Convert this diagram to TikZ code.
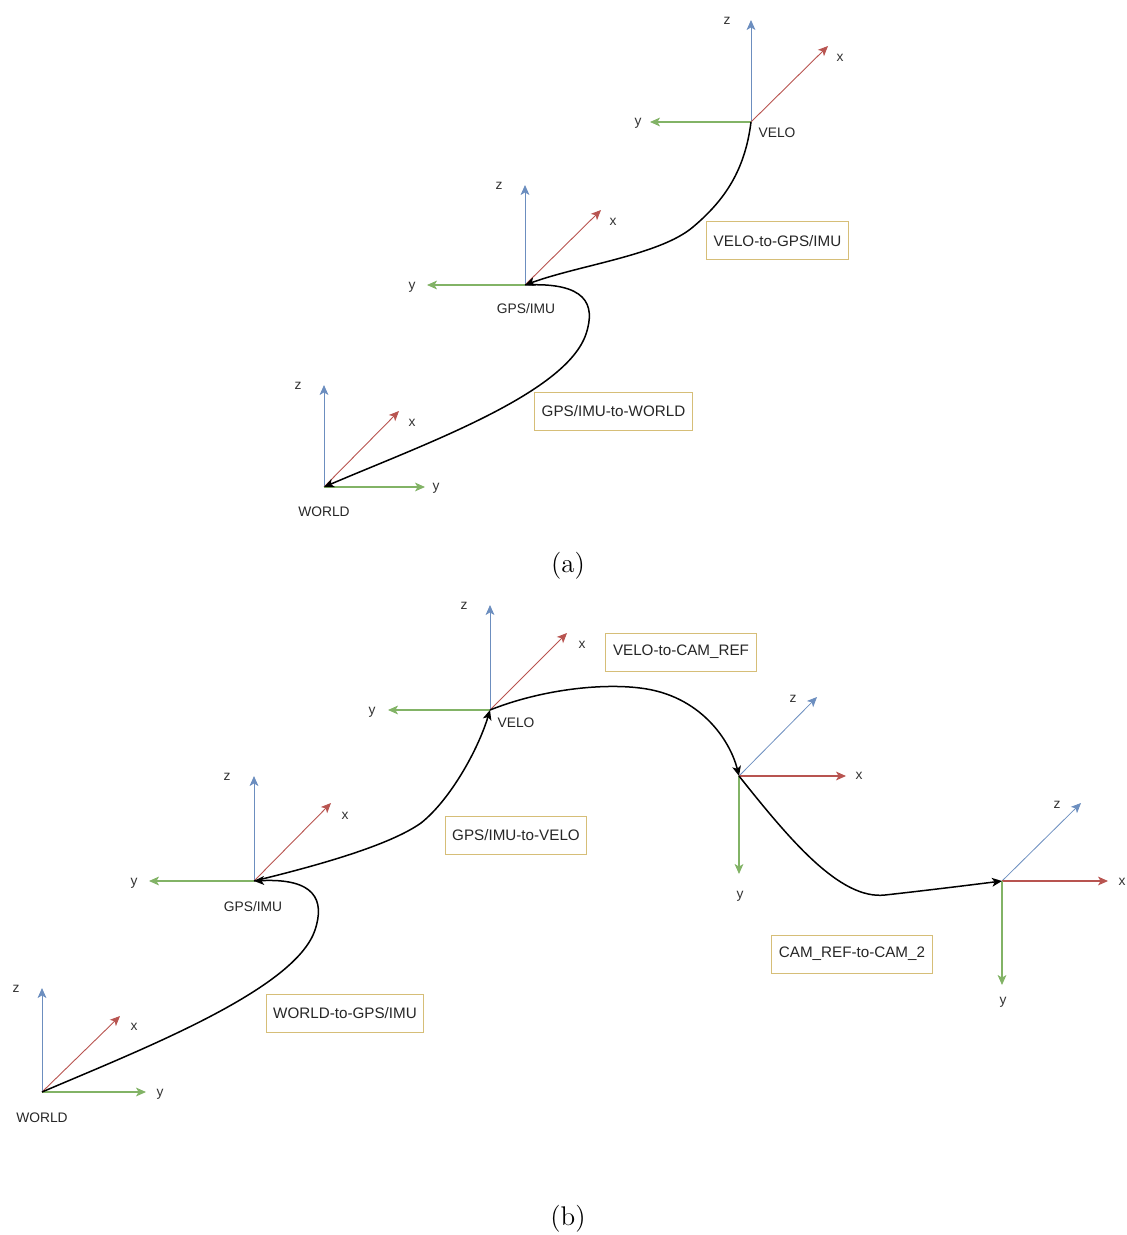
\documentclass[tikz,border=0pt]{standalone}
\usepackage{fontspec}
\newfontfamily\lab{Liberation Sans}
\usetikzlibrary{arrows.meta}
\definecolor{zblue}{RGB}{108,142,191}
\definecolor{xred}{RGB}{184,84,80}
\definecolor{ygreen}{RGB}{130,179,102}
\definecolor{boxtan}{RGB}{214,190,120}
\tikzset{
  tipa/.style={-{Stealth[length=5pt,width=4.4pt,inset=1.3pt]}},
  zax/.style={tipa, draw=zblue, line width=0.5pt},
  xax/.style={tipa, draw=xred, line width=0.45pt},
  yax/.style={tipa, draw=ygreen, line width=0.55pt},
  axlbl/.style={font=\lab\fontsize{6.9}{8}\selectfont, inner sep=0pt, text=black!80},
  frlbl/.style={font=\lab\fontsize{6.9}{8}\selectfont, inner sep=0pt, text=black!85},
  tbox/.style={draw=boxtan, line width=0.5pt, fill=white, font=\lab\fontsize{7.6}{9}\selectfont,
     inner xsep=3.6pt, minimum height=19pt, text=black!85},
  conn/.style={-{Stealth[length=5pt,width=4.4pt,inset=1.3pt]}, line width=0.75pt, black},
  capt/.style={font=\fontsize{13.5}{16}\selectfont, inner sep=0pt}
}
\begin{document}
\begin{tikzpicture}[x=0.5pt,y=-0.5pt]
\useasboundingbox (0,0) rectangle (1126,1235);

% ================= (a) =================
% VELO (a)
\coordinate (va) at (751,122);
\draw[zax] (va) -- ++(0,-102) coordinate (vaz);
\draw[xax] (va) -- ++(77,-76) coordinate (vax);
\draw[yax] (va) -- ++(-101,0) coordinate (vay);
\node[axlbl] (vazl) at (727,21) {z};
\node[axlbl] (vaxl) at (840,58) {x};
\node[axlbl] (vayl) at (638,123) {y};
\node[frlbl] (val) at (777,133) {VELO};

% GPS/IMU (a)
\coordinate (ga) at (525,285);
\draw[zax] (ga) -- ++(0,-100) coordinate (gaz);
\draw[xax] (ga) -- ++(76,-75) coordinate (gax);
\draw[yax] (ga) -- ++(-98,0) coordinate (gay);
\node[axlbl] (gazl) at (499,186) {z};
\node[axlbl] (gaxl) at (613,222) {x};
\node[axlbl] (gayl) at (412,287) {y};
\node[frlbl] (gal) at (526,309) {GPS/IMU};

% WORLD (a)
\coordinate (wa) at (324,487);
\draw[zax] (wa) -- ++(0,-102) coordinate (waz);
\draw[xax] (wa) -- ++(75,-76) coordinate (wax);
\draw[yax] (wa) -- ++(101,0) coordinate (way);
\node[axlbl] (wazl) at (298,386) {z};
\node[axlbl] (waxl) at (412,423) {x};
\node[axlbl] (wayl) at (436,488) {y};
\node[frlbl] (wal) at (324,512) {WORLD};

% connectors (a)
\draw[conn] (va) .. controls (745,170) and (725,200) .. (693,227)
                 .. controls (660,255) and (580,265) .. (ga);
\draw[conn] (ga) .. controls (586,282) and (596,304) .. (586,334)
                 .. controls (566,394) and (422,445) .. (wa);

\node[tbox] (b1) at (777.5,241) {VELO-to-GPS/IMU};
\node[tbox] (b2) at (613.5,411) {GPS/IMU-to-WORLD};

\node[capt] (ca) at (568,566) {(a)};

% ================= (b) =================
% VELO (b)
\coordinate (vb) at (490,710);
\draw[zax] (vb) -- ++(0,-105) coordinate (vbz);
\draw[xax] (vb) -- ++(77,-77) coordinate (vbx);
\draw[yax] (vb) -- ++(-102,0) coordinate (vby);
\node[axlbl] (vbzl) at (464,606) {z};
\node[axlbl] (vbxl) at (582,645) {x};
\node[axlbl] (vbyl) at (372,712) {y};
\node[frlbl] (vbl) at (516,723) {VELO};

% GPS/IMU (b)
\coordinate (gb) at (254,881);
\draw[zax] (gb) -- ++(0,-105) coordinate (gbz);
\draw[xax] (gb) -- ++(77,-78) coordinate (gbx);
\draw[yax] (gb) -- ++(-105,0) coordinate (gby);
\node[axlbl] (gbzl) at (227,777) {z};
\node[axlbl] (gbxl) at (345,816) {x};
\node[axlbl] (gbyl) at (134,883) {y};
\node[frlbl] (gbl) at (253,907) {GPS/IMU};

% WORLD (b)
\coordinate (wb) at (42,1092);
\draw[zax] (wb) -- ++(0,-104) coordinate (wbz);
\draw[xax] (wb) -- ++(78,-76) coordinate (wbx);
\draw[yax] (wb) -- ++(104,0) coordinate (wby);
\node[axlbl] (wbzl) at (16,989) {z};
\node[axlbl] (wbxl) at (134,1027) {x};
\node[axlbl] (wbyl) at (160,1094) {y};
\node[frlbl] (wbl) at (42,1118) {WORLD};

% CAM_REF
\coordinate (cr) at (739,776);
\draw[zax, line width=0.4pt] (cr) -- ++(78,-79) coordinate (crz);
\draw[xax, line width=0.55pt] (cr) -- ++(107,0) coordinate (crx);
\draw[yax] (cr) -- ++(0,98) coordinate (cry);
\node[axlbl] (crzl) at (793,699) {z};
\node[axlbl] (crxl) at (859,776) {x};
\node[axlbl] (cryl) at (740,896) {y};

% CAM_2
\coordinate (c2) at (1002,881);
\draw[zax, line width=0.4pt] (c2) -- ++(79,-78) coordinate (c2z);
\draw[xax, line width=0.55pt] (c2) -- ++(106,0) coordinate (c2x);
\draw[yax] (c2) -- ++(0,104) coordinate (c2y);
\node[axlbl] (c2zl) at (1057,805) {z};
\node[axlbl] (c2xl) at (1122,882) {x};
\node[axlbl] (c2yl) at (1003,1002) {y};

% connectors (b)
\draw[conn] (wb) .. controls (140,1050) and (295,990) .. (315,930)
                 .. controls (325,900) and (315,878) .. (gb);
\draw[conn] (gb) .. controls (320,865) and (390,845) .. (421,823)
                 .. controls (450,800) and (478,750) .. (vb);
\draw[conn] (vb) .. controls (540,690) and (600,683) .. (640,688)
                 .. controls (700,695) and (730,740) .. (cr);
\draw[conn] (cr) .. controls (790,840) and (840,900) .. (885,895)
                 .. controls (930,890) and (970,885) .. (c2);

\node[tbox] (b3) at (681,652) {VELO-to-CAM\_REF};
\node[tbox] (b4) at (516,835.5) {GPS/IMU-to-VELO};
\node[tbox] (b5) at (852,954) {CAM\_REF-to-CAM\_2};
\node[tbox] (b6) at (345,1013) {WORLD-to-GPS/IMU};

\node[capt] (cb) at (568,1219) {(b)};
\end{tikzpicture}
\end{document}
